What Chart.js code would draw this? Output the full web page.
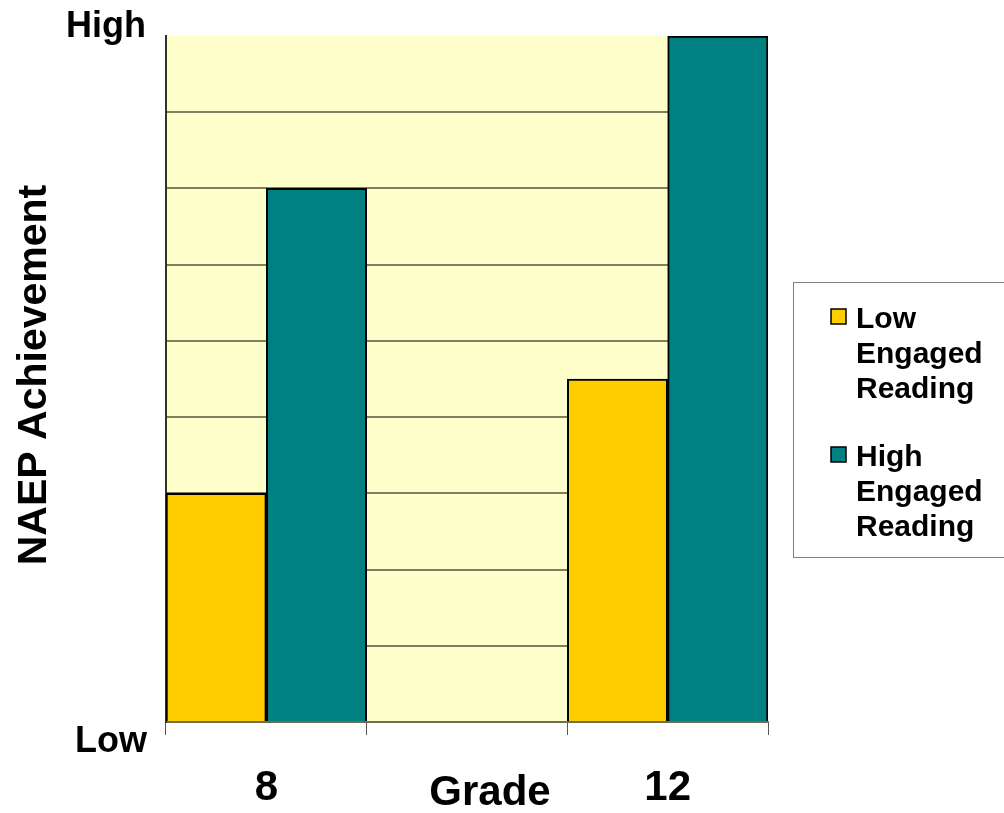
<!DOCTYPE html>
<html>
<head>
<meta charset="utf-8">
<script src="https://cdn.jsdelivr.net/npm/chart.js@4/dist/chart.umd.min.js"></script>
<style>
  html, body { margin: 0; padding: 0; background: #ffffff; }
  #wrap { position: relative; width: 1004px; height: 813px; }
</style>
</head>
<body>
<div id="wrap"><canvas id="c" width="1004" height="813"></canvas></div>
<script>
// ---- data ----
const categories = ['8', '', '12'];
const lowEngaged = [3, null, 4.5];
const highEngaged = [7, null, 9];
const seriesNames = ['Low Engaged Reading', 'High Engaged Reading'];
const seriesColors = ['#FFCC00', '#008080'];
const yTickLabels = ['Low', 'High'];
const xTitle = 'Grade';
const yTitle = 'NAEP Achievement';

const FONT = '"Liberation Sans", Arial, Helvetica, sans-serif';

const textPlugin = {
  id: 'customText',
  beforeDraw(chart) {
    const {ctx, chartArea: a} = chart;
    ctx.save();
    ctx.fillStyle = '#FFFFCC';
    ctx.fillRect(a.left, a.top, a.right - a.left, a.bottom - a.top);
    ctx.restore();
  },
  afterDraw(chart) {
    const {ctx, chartArea: a} = chart;
    const xs = chart.scales.x, ys = chart.scales.y;
    ctx.save();
    ctx.fillStyle = '#000000';
    // y labels
    ctx.font = 'bold 36px ' + FONT;
    ctx.textAlign = 'right';
    ctx.textBaseline = 'alphabetic';
    ctx.fillText(yTickLabels[1], 146, ys.getPixelForValue(ys.max) + 1);
    ctx.fillText(yTickLabels[0], 147, ys.getPixelForValue(ys.min) + 30);
    // x category labels
    ctx.font = 'bold 42px ' + FONT;
    ctx.textAlign = 'center';
    categories.forEach((c, i) => {
      if (c) ctx.fillText(c, xs.getPixelForValue(i), 800);
    });
    // x title
    ctx.fillText(xTitle, 490, 805);
    // y title
    ctx.save();
    ctx.translate(46, (a.top + a.bottom) / 2 - 4);
    ctx.rotate(-Math.PI / 2);
    ctx.font = 'bold 41px ' + FONT;
    ctx.textAlign = 'center';
    ctx.fillText(yTitle, 0, 0);
    ctx.restore();
    // legend
    ctx.strokeStyle = '#808080';
    ctx.lineWidth = 1;
    ctx.strokeRect(793.5, 282.5, 215, 275);
    ctx.font = 'bold 30px ' + FONT;
    ctx.textAlign = 'left';
    const itemTops = [328, 466];
    seriesNames.forEach((name, k) => {
      const base = itemTops[k];
      ctx.fillStyle = seriesColors[k];
      ctx.fillRect(831, base - 19, 15, 15);
      ctx.strokeStyle = '#000000';
      ctx.lineWidth = 1.5;
      ctx.strokeRect(831, base - 19, 15, 15);
      ctx.fillStyle = '#000000';
      name.split(' ').forEach((w, j) => ctx.fillText(w, 856, base + j * 35));
    });
    ctx.restore();
  }
};

new Chart(document.getElementById('c'), {
  type: 'bar',
  data: {
    labels: categories,
    datasets: [
      { label: seriesNames[0], data: lowEngaged, backgroundColor: seriesColors[0],
        borderColor: '#000000', borderWidth: 2, categoryPercentage: 1, barPercentage: 1 },
      { label: seriesNames[1], data: highEngaged, backgroundColor: seriesColors[1],
        borderColor: '#000000', borderWidth: 2, categoryPercentage: 1, barPercentage: 1 }
    ]
  },
  options: {
    responsive: false,
    animation: false,
    layout: { padding: { left: 166, right: 236, top: 36, bottom: 78 } },
    plugins: { legend: { display: false }, tooltip: { enabled: false } },
    scales: {
      x: {
        offset: true,
        ticks: { display: false },
        grid: { offset: true, drawOnChartArea: false, drawTicks: true, tickLength: 13, color: '#555555', lineWidth: 1 },
        border: { display: true, color: '#6f6f50', width: 2 },
        afterFit: s => { s.height = 13; }
      },
      y: {
        min: 0, max: 9,
        ticks: { display: false, stepSize: 1 },
        grid: {
          drawTicks: false,
          color: c => (c.tick && (c.tick.value === 0 || c.tick.value === 9)) ? 'rgba(0,0,0,0)' : '#7f7f5f',
          lineWidth: 2
        },
        border: { display: true, color: '#333322', width: 2 },
        afterFit: s => { s.width = 0; }
      }
    }
  },
  plugins: [textPlugin]
});
</script>
</body>
</html>
